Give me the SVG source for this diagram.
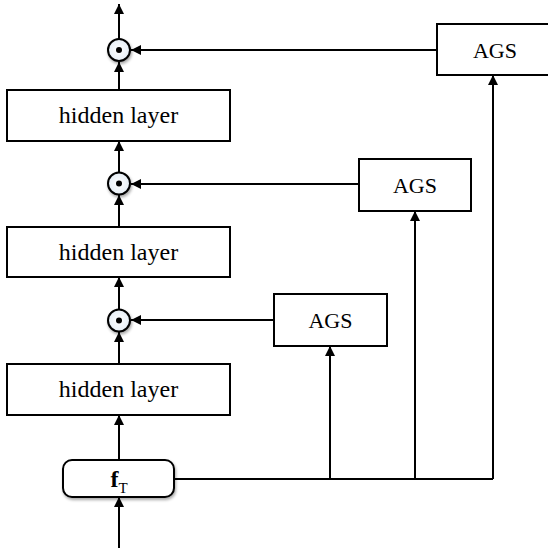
<svg xmlns="http://www.w3.org/2000/svg" width="548" height="548" viewBox="0 0 548 548">
<defs>
<marker id="ah" viewBox="0 0 10 10" refX="10" refY="5" markerWidth="10" markerHeight="10" markerUnits="userSpaceOnUse" orient="auto">
<path d="M0,0 L10,5 L0,10 Z" fill="#000"/>
</marker>
<radialGradient id="cg" cx="0.5" cy="0.5" r="0.5">
<stop offset="0" stop-color="#ffffff"/>
<stop offset="1" stop-color="#e6eef6"/>
</radialGradient>
<filter id="sh" x="-30%" y="-30%" width="160%" height="160%">
<feGaussianBlur in="SourceAlpha" stdDeviation="1.5"/>
<feOffset dx="1" dy="1.5" result="b"/>
<feComponentTransfer><feFuncA type="linear" slope="0.35"/></feComponentTransfer>
<feMerge><feMergeNode/><feMergeNode in="SourceGraphic"/></feMerge>
</filter>
</defs>
<style>
.box{fill:#fff;stroke:#000;stroke-width:2}
.lbl{font-family:"Liberation Serif","Times New Roman",serif;font-size:22px;fill:#000;text-anchor:middle}
.hl{font-size:24px}
.ln{fill:none;stroke:#000;stroke-width:2}
.ar{fill:none;stroke:#000;stroke-width:2;marker-end:url(#ah)}
.op{fill:url(#cg);stroke:#000;stroke-width:2}
.fb{font-weight:bold;font-size:24px}
.fs{font-size:15px}
</style>
<g id="connectors">
<line class="ar" x1="119" y1="548" x2="119" y2="497"/>
<line class="ar" x1="119" y1="460" x2="119" y2="415"/>
<line class="ar" x1="119" y1="364" x2="119" y2="332"/>
<line class="ar" x1="119" y1="309" x2="119" y2="277"/>
<line class="ar" x1="119" y1="227" x2="119" y2="195"/>
<line class="ar" x1="119" y1="172" x2="119" y2="141"/>
<line class="ar" x1="119" y1="90" x2="119" y2="62"/>
<line class="ar" x1="119" y1="39" x2="119" y2="4"/>
<polyline class="ln" points="174,479 493,479"/>
<line class="ar" x1="330" y1="479" x2="330" y2="346"/>
<line class="ar" x1="415" y1="479" x2="415" y2="211"/>
<line class="ar" x1="493" y1="479" x2="493" y2="75"/>
<line class="ar" x1="274" y1="320" x2="131" y2="320"/>
<line class="ar" x1="359" y1="184" x2="131" y2="184"/>
<line class="ar" x1="437" y1="50" x2="131" y2="50"/>
</g>
<g id="fT">
<rect class="box" x="63" y="460" width="111" height="37" rx="9" filter="url(#sh)"/>
<text x="119" y="487" class="lbl"><tspan class="fb">f</tspan><tspan class="fs" dy="6">T</tspan></text>
</g>
<g id="hidden3">
<rect class="box" x="7" y="364" width="223" height="51"/>
<text x="118.5" y="397" class="lbl hl">hidden layer</text>
</g>
<g id="hidden2">
<rect class="box" x="7" y="227" width="223" height="50"/>
<text x="118.5" y="260" class="lbl hl">hidden layer</text>
</g>
<g id="hidden1">
<rect class="box" x="7" y="90" width="223" height="51"/>
<text x="118.5" y="123" class="lbl hl">hidden layer</text>
</g>
<g id="op3">
<circle class="op" cx="119" cy="320.5" r="11" filter="url(#sh)"/>
<circle cx="119" cy="320.5" r="3" fill="#000"/>
</g>
<g id="op2">
<circle class="op" cx="119" cy="183.5" r="11" filter="url(#sh)"/>
<circle cx="119" cy="183.5" r="3" fill="#000"/>
</g>
<g id="op1">
<circle class="op" cx="119" cy="50" r="11" filter="url(#sh)"/>
<circle cx="119" cy="50" r="3" fill="#000"/>
</g>
<g id="ags3">
<rect class="box" x="274" y="294" width="113" height="52"/>
<text x="330.5" y="328" class="lbl">AGS</text>
</g>
<g id="ags2">
<rect class="box" x="359" y="159" width="112" height="52"/>
<text x="415" y="193" class="lbl">AGS</text>
</g>
<g id="ags1">
<rect class="box" x="437" y="24" width="112" height="51"/>
<text x="495" y="58" class="lbl">AGS</text>
</g>
</svg>
